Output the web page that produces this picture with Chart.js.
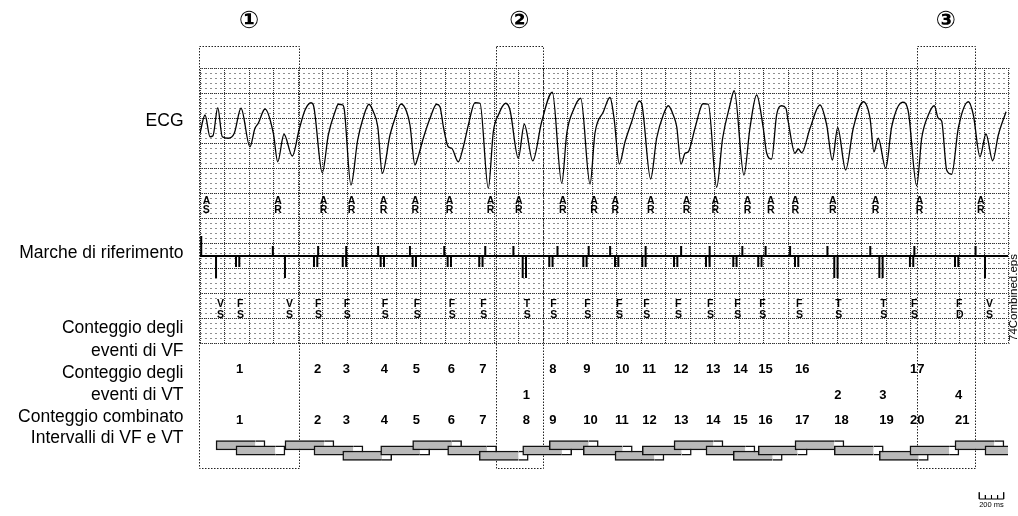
<!DOCTYPE html>
<html>
<head>
<meta charset="utf-8">
<script src="https://cdn.jsdelivr.net/npm/chart.js@4.4.0/dist/chart.umd.min.js"></script>
<style>
  html, body { margin: 0; padding: 0; background: #fff; }
  canvas { display: block; }
</style>
</head>
<body>
<canvas id="ecg" width="1018" height="516"></canvas>
<script>
// x in ms from the start of the strip, y in grid boxes (grid spans 0..11)
const STRIP_MS = 6600;

const ecgTimes = [0,41,82,106,145,182,231,280,335,408,
  449,476,531,599,635,686,754,809,858,907,
  926,999,1048,1103,1130,1166,1179,1233,1288,1332,
  1380,1416,1452,1489,1552,1593,1642,1688,1715,1756,
  1778,1824,1879,1933,1960,1988,2028,2056,2110,2151,
  2192,2246,2287,2355,2396,2437,2497,2532,2600,2649,
  2718,2791,2878,2955,2996,3050,3110,3186,3226,3295,
  3349,3382,3425,3472,3526,3588,3607,3681,3730,3784,
  3825,3866,3894,3929,3962,3989,4043,4098,4111,4152,
  4220,4269,4329,4364,4443,4492,4547,4601,4629,4669,
  4710,4751,4786,4805,4860,4887,4915,4983,5064,5119,
  5165,5209,5274,5336,5418,5473,5505,5540,5601,5650,
  5740,5786,5854,5895,5949,5998,6031,6058,6099,6140,
  6194,6276,6317,6371,6420,6475,6521,6584];
const ecgValues = [8.39,9.12,8.25,8.29,9.41,8.25,8.19,8.39,9.39,7.85,
  8.59,8.79,9.36,8.39,7.25,8.35,7.48,8.52,9.32,9.61,
  9.52,6.81,8.32,9.25,9.55,9.52,9.32,6.32,8.12,8.99,
  9.55,9.25,8.65,6.79,8.32,8.99,9.56,9.25,8.72,7.12,
  7.39,8.19,8.99,9.55,9.45,8.65,7.85,7.79,7.25,7.85,
  8.72,9.61,9.59,6.19,8.45,9.12,9.59,9.32,7.39,8.75,
  7.29,8.85,10.03,6.39,8.39,9.32,9.79,6.36,8.39,9.25,
  9.82,8.99,7.16,8.05,8.85,9.68,9.59,6.56,8.19,9.12,
  9.49,9.12,8.65,7.16,7.59,7.65,8.59,9.52,9.57,9.55,
  6.23,8.19,9.52,10.09,6.72,8.59,9.92,8.59,7.59,7.36,
  9.12,9.49,9.39,8.85,7.59,7.76,7.61,8.59,9.52,8.72,
  7.32,8.61,6.92,8.59,9.65,8.99,7.65,8.19,6.99,8.65,
  9.63,9.25,6.29,8.19,9.12,9.49,8.99,8.88,6.92,6.75,
  8.59,9.65,9.12,7.45,8.36,7.29,8.32,9.25];

const atrialTimes = [10,595,965,1195,1455,1715,1995,2330,2560,2920,3175,
  3350,3640,3930,4165,4430,4620,4820,5125,5475,5835,6335];
const atrialCodes = ['AS','AR','AR','AR','AR','AR','AR','AR','AR','AR','AR',
  'AR','AR','AR','AR','AR','AR','AR','AR','AR','AR','AR'];

const ventTimes = [131,294,694,931,1166,1476,1737,2023,2281,2636,2853,3131,
  3390,3613,3872,4133,4356,4560,4860,5181,5549,5799,6167,6412];
const ventCodes = ['VS','FS','VS','FS','FS','FS','FS','FS','FS','TS','FS','FS',
  'FS','FS','FS','FS','FS','FS','FS','TS','TS','FS','FD','VS'];

// counters shown under each ventricular event (null = blank)
const vfCounts = [null,1,null,2,3,4,5,6,7,null,8,9,10,11,12,13,14,15,16,null,null,17,null,null];
const vtCounts = [null,null,null,null,null,null,null,null,null,1,null,null,
  null,null,null,null,null,null,null,2,3,null,4,null];
const combinedCounts = [null,1,null,2,3,4,5,6,7,8,9,10,11,12,13,14,15,16,17,18,19,20,21,null];

// VF / VT detection intervals started at each event, drawn on three staggered rows
const vfIntervalMs = 320;
const vtIntervalMs = 400;
const intervalRows = [0,1,0,1,2,1,0,1,2,1,0,1,2,1,0,1,2,1,0,1,2,1,0,1];
const intervalRowY = [-4.09, -4.30, -4.51];

const episodeBoxes = [[-5, 807], [2415, 2804], [5854, 6330]];
const episodeLabels = ['①', '②', '③'];

const rowLabels = ['ECG', 'Marche di riferimento', 'Conteggio degli', 'eventi di VF',
  'Conteggio degli', 'eventi di VT', 'Conteggio combinato', 'Intervalli di VF e VT'];
const rowLabelY = [8.88, 3.59, 0.60, -0.32, -1.21, -2.08, -2.95, -3.81];

const scaleBarStart = 6365;
const scaleBarMs = 200;
const scaleBarStep = 50;

// marker channel shape
const markBase = 3.48;
const markHeight = { AS: 0.8, AR: 0.4, VS: -0.88, FS: -0.44, TS: -0.88, FD: -0.44 };
const doubleMarks = ['FS', 'TS', 'FD'];

const FONT = "'Liberation Sans', Arial, sans-serif";

// build marker channel trace from the event lists
const markEvents = atrialTimes.map((t, i) => ({ t, code: atrialCodes[i] }))
  .concat(ventTimes.map((t, i) => ({ t, code: ventCodes[i] })))
  .sort((a, b) => a.t - b.t);
const markTrace = [{ x: 0, y: markBase }];
markEvents.forEach(ev => {
  const offsets = doubleMarks.includes(ev.code) ? [0, 27] : [0];
  offsets.forEach(o => {
    markTrace.push({ x: ev.t + o, y: markBase });
    markTrace.push({ x: ev.t + o, y: markBase + markHeight[ev.code] });
    markTrace.push({ x: ev.t + o, y: markBase });
  });
});
markTrace.push({ x: STRIP_MS, y: markBase });

const scaleBar = [];
for (let t = scaleBarStart; t <= scaleBarStart + scaleBarMs; t += scaleBarStep) {
  const end = t === scaleBarStart || t === scaleBarStart + scaleBarMs;
  scaleBar.push({ x: t, y: -6.24 }, { x: t, y: end ? -5.97 : -6.08 }, { x: t, y: -6.24 });
}

const datasets = [
  {
    label: 'ECG',
    data: ecgTimes.map((t, i) => ({ x: t, y: ecgValues[i] })),
    borderColor: '#000',
    borderWidth: 1.3,
    cubicInterpolationMode: 'monotone',
    pointRadius: 0,
    order: 0
  },
  {
    label: 'Marche di riferimento',
    data: markTrace,
    borderColor: '#000',
    borderWidth: 2,
    pointRadius: 0,
    order: 0
  },
  {
    label: '200 ms',
    data: scaleBar,
    borderColor: '#000',
    borderWidth: 1,
    pointRadius: 0,
    clip: false,
    order: 0
  }
];

ventTimes.forEach((t, i) => {
  const y = intervalRowY[intervalRows[i]];
  const common = {
    type: 'bar',
    indexAxis: 'y',
    stack: 'intervals',
    barThickness: 9.5,
    borderColor: '#111',
    borderWidth: 1.5,
    order: 100 - i
  };
  datasets.push(Object.assign({}, common, {
    data: [{ x: [t, t + vfIntervalMs], y }],
    backgroundColor: '#b9b9b9',
    borderSkipped: 'right'
  }));
  datasets.push(Object.assign({}, common, {
    data: [{ x: [t + vfIntervalMs, t + vtIntervalMs], y }],
    backgroundColor: '#ffffff',
    borderSkipped: 'left'
  }));
});

const stripPlugin = {
  id: 'strip',
  beforeDatasetsDraw(chart) {
    const { ctx, scales: { x, y } } = chart;
    const left = Math.round(x.getPixelForValue(0));
    const right = Math.round(x.getPixelForValue(STRIP_MS));
    const top = Math.round(y.getPixelForValue(11));
    const bottom = Math.round(y.getPixelForValue(0));
    ctx.save();

    // small dots every 40 ms / 0.2 box
    ctx.fillStyle = '#8f8f8f';
    for (let t = 0; t <= STRIP_MS; t += 40) {
      const px = Math.round(x.getPixelForValue(t));
      for (let j = 0; j <= 55; j++) {
        const py = Math.round(y.getPixelForValue(j / 5));
        ctx.fillRect(px, py, 2, 1);
      }
    }

    // big boxes: 200 ms x 1 box
    ctx.strokeStyle = '#333';
    ctx.lineWidth = 1;
    ctx.setLineDash([1, 1]);
    ctx.beginPath();
    for (let t = 0; t <= STRIP_MS; t += 200) {
      const px = Math.round(x.getPixelForValue(t)) + 0.5;
      ctx.moveTo(px, top);
      ctx.lineTo(px, bottom);
    }
    for (let v = 0; v <= 11; v++) {
      const py = Math.round(y.getPixelForValue(v)) + 0.5;
      ctx.moveTo(left, py);
      ctx.lineTo(right, py);
    }
    ctx.stroke();

    // episode boxes
    ctx.strokeStyle = '#222';
    ctx.setLineDash([1.5, 1.5]);
    episodeBoxes.forEach(([t0, t1]) => {
      const x0 = Math.round(x.getPixelForValue(t0)) + 0.5;
      const x1 = Math.round(x.getPixelForValue(t1)) + 0.5;
      const y0 = Math.round(y.getPixelForValue(11.88)) + 0.5;
      const y1 = Math.round(y.getPixelForValue(-4.99)) + 0.5;
      ctx.strokeRect(x0, y0, x1 - x0, y1 - y0);
    });
    ctx.restore();
  },
  afterDatasetsDraw(chart) {
    const { ctx, chartArea, scales: { x, y } } = chart;
    ctx.save();
    ctx.fillStyle = '#000';
    ctx.textBaseline = 'middle';

    // row names
    ctx.font = '17.5px ' + FONT;
    ctx.textAlign = 'right';
    rowLabels.forEach((txt, i) => {
      ctx.fillText(txt, chartArea.left - 16.5, y.getPixelForValue(rowLabelY[i]));
    });

    // episode numbers
    ctx.textAlign = 'center';
    ctx.font = "bold 24px 'DejaVu Sans', sans-serif";
    episodeBoxes.forEach(([t0, t1], i) => {
      ctx.fillText(episodeLabels[i], x.getPixelForValue((t0 + t1) / 2), y.getPixelForValue(12.84));
    });

    // marker annotations
    ctx.textAlign = 'left';
    ctx.font = 'bold 10.5px ' + FONT;
    atrialTimes.forEach((t, i) => {
      const px = x.getPixelForValue(t) + 1.5;
      ctx.fillText(atrialCodes[i][0], px, y.getPixelForValue(5.68));
      ctx.fillText(atrialCodes[i][1], px, y.getPixelForValue(5.30));
    });
    ventTimes.forEach((t, i) => {
      const px = x.getPixelForValue(t) + 1;
      ctx.fillText(ventCodes[i][0], px, y.getPixelForValue(1.54));
      ctx.fillText(ventCodes[i][1], px, y.getPixelForValue(1.12));
    });

    // counters
    ctx.font = 'bold 13px ' + FONT;
    const rows = [[vfCounts, -1.05], [vtCounts, -2.08], [combinedCounts, -3.11]];
    rows.forEach(([vals, v]) => {
      vals.forEach((n, i) => {
        if (n === null) return;
        ctx.fillText(String(n), x.getPixelForValue(ventTimes[i]), y.getPixelForValue(v));
      });
    });

    // scale bar caption
    ctx.textAlign = 'center';
    ctx.font = '7.5px ' + FONT;
    ctx.fillText('200 ms', x.getPixelForValue(scaleBarStart + scaleBarMs / 2), y.getPixelForValue(-6.48));

    // file tag on the right edge
    ctx.translate(1017, y.getPixelForValue(0.08));
    ctx.rotate(-Math.PI / 2);
    ctx.textAlign = 'left';
    ctx.textBaseline = 'alphabetic';
    ctx.font = '11.5px ' + FONT;
    ctx.fillText('74Combined.eps', 0, 0);
    ctx.restore();
  }
};

new Chart(document.getElementById('ecg'), {
  type: 'line',
  data: { datasets },
  options: {
    responsive: false,
    animation: false,
    devicePixelRatio: 1,
    events: [],
    layout: { padding: { left: 200, right: 10, top: 68, bottom: 23 } },
    scales: {
      x: { type: 'linear', min: 0, max: STRIP_MS, display: false, stacked: false, offset: false },
      y: { type: 'linear', min: -6, max: 11, display: false, offset: false, grid: { offset: false } }
    },
    plugins: { legend: { display: false }, tooltip: { enabled: false } }
  },
  plugins: [stripPlugin]
});
</script>
</body>
</html>
